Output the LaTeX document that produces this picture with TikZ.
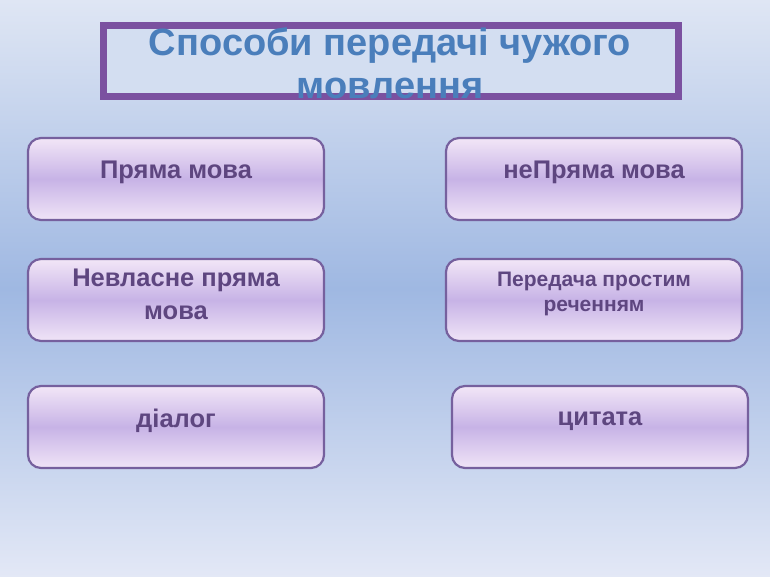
\documentclass[tikz,border=0pt]{standalone}
\usepackage{fontspec}
\setmainfont{Liberation Sans}
\definecolor{bgtop}{HTML}{DFE6F4}
\definecolor{bgmid}{HTML}{9FB8E2}
\definecolor{bgbot}{HTML}{E3E8F6}
\definecolor{titleline}{HTML}{7B51A0}
\definecolor{titlefill}{HTML}{D3DEF1}
\definecolor{titletext}{HTML}{4A7EBB}
\definecolor{boxline}{HTML}{76609E}
\definecolor{boxtop}{HTML}{F2E6F7}
\definecolor{boxmid}{HTML}{C7B3E6}
\definecolor{boxbot}{HTML}{F0E4F7}
\definecolor{boxtext}{HTML}{5E4680}
\tikzset{
  box/.style={draw=boxline, line width=2.2pt, rounded corners=13pt,
    minimum width=296pt, minimum height=82pt, inner sep=0pt,
    top color=boxtop, bottom color=boxbot, middle color=boxmid},
  boxlabel/.style={text=boxtext, font=\bfseries\fontsize{25.5}{30}\selectfont, align=center, inner sep=0pt},
  smalllabel/.style={text=boxtext, font=\bfseries\fontsize{21}{25}\selectfont, align=center, inner sep=0pt},
  titlelabel/.style={text=titletext, font=\bfseries\fontsize{38}{44}\selectfont, inner sep=0pt, anchor=base}
}
\begin{document}
\begin{tikzpicture}[x=1pt,y=-1pt]
\useasboundingbox (0,0) rectangle (770,577);
\shade[top color=bgtop, bottom color=bgbot, middle color=bgmid] (0,0) rectangle (770,577);
\node[draw=titleline, line width=7pt, fill=titlefill, minimum width=575pt, minimum height=71pt, inner sep=0pt] (titlebox) at (391,61) {};
\node[titlelabel] (title1) at (390,56) {Способи передачі чужого};
\node[titlelabel] (title2) at (390,99) {мовлення};
\node[box] (b1) at (176,179) {};
\node[box] (b2) at (594,179) {};
\node[box] (b3) at (176,300) {};
\node[box] (b4) at (594,300) {};
\node[box] (b5) at (176,427) {};
\node[box] (b6) at (600,427) {};
\node[boxlabel] (t1) at (176,172) {Пряма мова};
\node[boxlabel] (t2) at (594,172) {неПряма мова};
\node[boxlabel, font=\bfseries\fontsize{25.5}{33}\selectfont] (t3) at (176,294) {Невласне пряма\\мова};
\node[smalllabel] (t4) at (594,294) {Передача простим\\реченням};
\node[boxlabel] (t5) at (176,421) {діалог};
\node[boxlabel] (t6) at (600,421) {цитата};
\end{tikzpicture}
\end{document}
